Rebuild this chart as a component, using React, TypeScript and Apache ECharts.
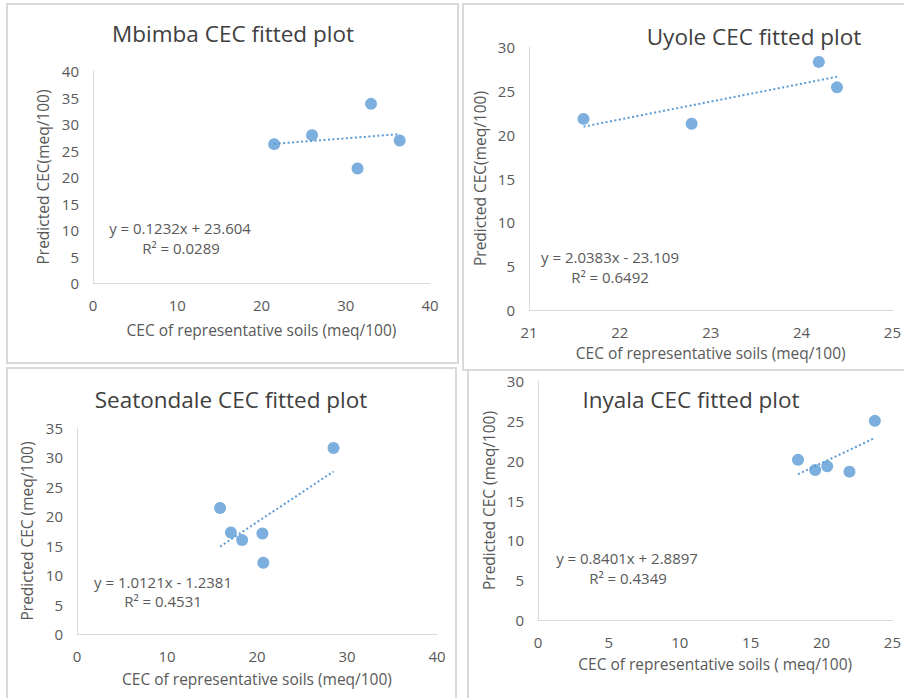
import React, { useEffect, useRef } from "react";
import * as echarts from "echarts";

// ---- Data ----
const panelTitles = ["Mbimba CEC fitted plot", "Uyole CEC fitted plot", "Seatondale CEC fitted plot", "Inyala CEC fitted plot"];

const mbimbaX = [21.5, 26.0, 33.0, 31.4, 36.4];
const mbimbaY = [26.2, 27.9, 33.8, 21.6, 26.9];

const uyoleX = [21.6, 22.79, 24.19, 24.39];
const uyoleY = [21.8, 21.24, 28.3, 25.4];

const seatondaleX = [15.9, 17.1, 18.35, 20.6, 20.7, 28.5];
const seatondaleY = [21.4, 17.25, 15.95, 17.08, 12.1, 31.6];

const inyalaX = [18.34, 19.55, 20.4, 21.97, 23.76];
const inyalaY = [20.1, 18.83, 19.29, 18.62, 25.0];

const slopes = [0.1232, 2.0383, 1.0121, 0.8401];
const intercepts = [23.604, -23.109, -1.2381, 2.8897];
const equations = ["y = 0.1232x + 23.604", "y = 2.0383x - 23.109", "y = 1.0121x - 1.2381", "y = 0.8401x + 2.8897"];
const rSquared = ["R² = 0.0289", "R² = 0.6492", "R² = 0.4531", "R² = 0.4349"];

const xMins = [0, 21, 0, 0];
const xMaxs = [40, 25, 40, 25];
const xIntervals = [10, 1, 10, 5];
const yMaxs = [40, 30, 35, 30];
const yIntervals = [5, 5, 5, 5];

const xNames = [
  "CEC of representative soils (meq/100)",
  "CEC of representative soils (meq/100)",
  "CEC of representative soils (meq/100)",
  "CEC of representative soils ( meq/100)",
];
const yNames = ["Predicted CEC(meq/100)", "Predicted CEC(meq/100)", "Predicted CEC (meq/100)", "Predicted CEC (meq/100)"];

const allX = [mbimbaX, uyoleX, seatondaleX, inyalaX];
const allY = [mbimbaY, uyoleY, seatondaleY, inyalaY];

// ---- Layout ----
const grids = [
  { left: 93, top: 71, width: 337, height: 212 },
  { left: 529, top: 47, width: 367, height: 263 },
  { left: 77, top: 428, width: 360, height: 206 },
  { left: 538, top: 381, width: 357, height: 239 },
];
const titlePos = [
  [233, 33],
  [754, 36],
  [231, 399],
  [691, 399],
];
const eqPos = [
  [180, 228, 181, 248],
  [610, 257, 610, 277],
  [163, 582, 163, 601],
  [627, 558, 628, 578],
];
const borders = [
  [7, 4, 451, 359],
  [463, 4, 450, 366],
  [7, 368, 449, 340],
  [468, 370, 445, 340],
];

const FONT = "'Open Sans', sans-serif";
const BLUE = "#5b9bd5";
const GRAY = "#595959";

export default function App() {
  const ref = useRef<HTMLDivElement>(null);
  useEffect(() => {
    if (!ref.current) return;
    const chart = echarts.init(ref.current, undefined, { renderer: "svg" });
    const series: any[] = [];
    allX.forEach((xs, i) => {
      const ys = allY[i];
      series.push({
        type: "scatter",
        xAxisIndex: i,
        yAxisIndex: i,
        symbolSize: 12,
        itemStyle: { color: BLUE },
        data: xs.map((x, k) => [x, ys[k]]),
      });
      const lo = Math.min(...xs);
      const hi = Math.max(...xs);
      series.push({
        type: "line",
        xAxisIndex: i,
        yAxisIndex: i,
        symbol: "none",
        lineStyle: { color: BLUE, width: 2, type: [2, 2.5] },
        data: [
          [lo, slopes[i] * lo + intercepts[i]],
          [hi, slopes[i] * hi + intercepts[i]],
        ],
      });
    });

    const graphic: any[] = [];
    borders.forEach((b) => {
      graphic.push({
        type: "rect",
        shape: { x: b[0], y: b[1], width: b[2], height: b[3] },
        style: { fill: "none", stroke: "#d9d9d9", lineWidth: 2 },
        silent: true,
      });
    });
    titlePos.forEach((p, i) => {
      graphic.push({
        type: "text",
        x: p[0],
        y: p[1],
        style: {
          text: panelTitles[i],
          font: `22.5px ${FONT}`,
          fill: "#404040",
          textAlign: "center",
          textVerticalAlign: "middle",
        },
      });
    });
    eqPos.forEach((p, i) => {
      graphic.push({
        type: "text",
        x: p[0],
        y: p[1],
        style: { text: equations[i], font: `15px ${FONT}`, fill: GRAY, textAlign: "center", textVerticalAlign: "middle" },
      });
      graphic.push({
        type: "text",
        x: p[2],
        y: p[3],
        style: { text: rSquared[i], font: `15px ${FONT}`, fill: GRAY, textAlign: "center", textVerticalAlign: "middle" },
      });
    });

    const axisLabel = { color: GRAY, fontSize: 15, fontFamily: FONT, margin: 14 };
    const axisLine = { show: true, lineStyle: { color: "#d9d9d9", width: 1 } };
    const xGaps = [39, 35, 37, 36];
    const yGaps = [42, 41, 42, 41];

    chart.setOption({
      animation: false,
      backgroundColor: "#ffffff",
      grid: grids.map((g) => ({ ...g, containLabel: false })),
      xAxis: grids.map((_, i) => ({
        type: "value",
        gridIndex: i,
        min: xMins[i],
        max: xMaxs[i],
        interval: xIntervals[i],
        axisLine,
        axisTick: { show: false },
        splitLine: { show: false },
        axisLabel,
        name: xNames[i],
        nameLocation: "middle",
        nameGap: xGaps[i],
        nameTextStyle: { color: GRAY, fontSize: 15.5, fontFamily: FONT },
      })),
      yAxis: grids.map((_, i) => ({
        type: "value",
        gridIndex: i,
        min: 0,
        max: yMaxs[i],
        interval: yIntervals[i],
        axisLine,
        axisTick: { show: false },
        splitLine: { show: false },
        axisLabel,
        name: yNames[i],
        nameLocation: "middle",
        nameGap: yGaps[i],
        nameTextStyle: { color: GRAY, fontSize: 15.5, fontFamily: FONT },
      })),
      series,
      graphic,
    });
    return () => chart.dispose();
  }, []);
  return <div ref={ref} style={{ position: "absolute", left: 0, top: 0, width: 904, height: 698 }} />;
}
